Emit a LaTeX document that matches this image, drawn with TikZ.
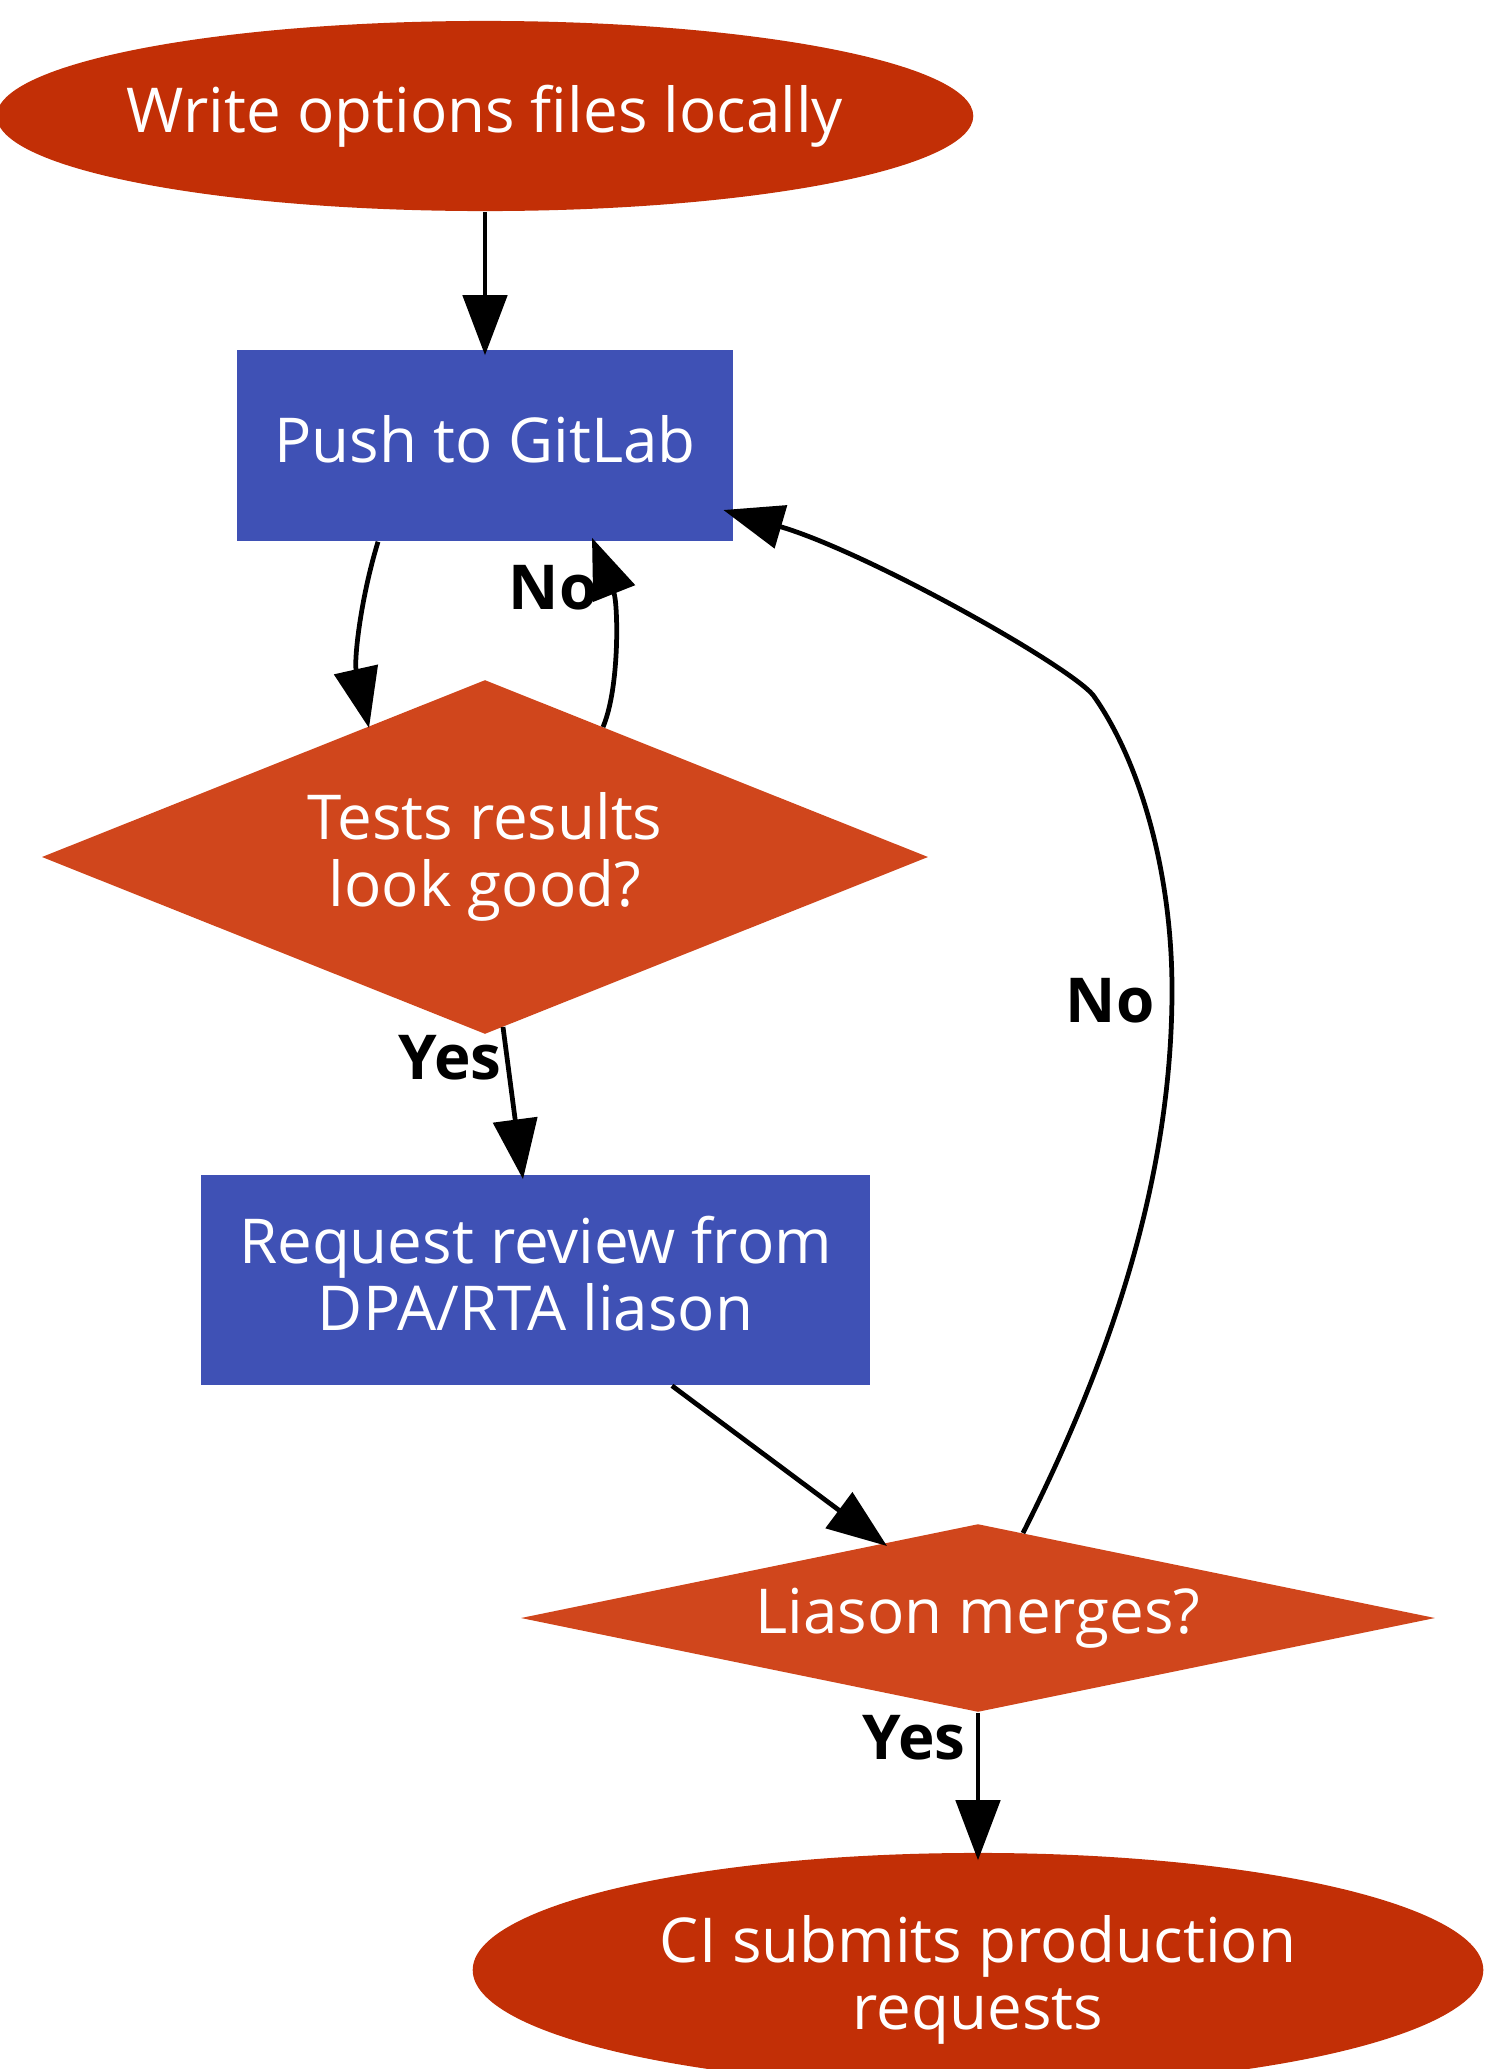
\documentclass[tikz,border=0pt]{standalone}
\usepackage{fontspec}
\setmainfont{Open Sans}
\usetikzlibrary{shapes.geometric,arrows.meta,calc}
\definecolor{termfill}{HTML}{C22F06}
\definecolor{stepfill}{HTML}{3F51B5}
\definecolor{askfill}{HTML}{D0461C}
\begin{document}
\begin{tikzpicture}[x=0.01cm,y=-0.01cm,
  every node/.style={font=\fontsize{17.6pt}{19.1pt}\selectfont, text=white, align=center, inner sep=0pt},
  terminal/.style={ellipse, fill=termfill},
  stepbox/.style={rectangle, fill=stepfill, text depth=0.14cm},
  ask/.style={diamond, fill=askfill},
  flow/.style={draw=black, line width=1.35pt, -{Triangle[length=0.6cm,width=0.44cm]}},
  edgelabel/.style={text=black, font=\fontsize{17.6pt}{19.1pt}\selectfont\bfseries}
]
\useasboundingbox (0,0) rectangle (1485,2069);

% nodes of the flow
\node[terminal, minimum width=9.76cm, minimum height=1.90cm,
      label={center:Write options files locally}] (start) at (485,116) {};
\node[stepbox, minimum width=4.95cm, minimum height=1.91cm] (push) at (485,445.5) {Push to GitLab};
\node[ask, aspect=2.5, minimum width=8.86cm, minimum height=3.54cm] (test) at (485,857) {Tests results\\look good?};
\node[stepbox, minimum width=6.69cm, minimum height=2.10cm] (request) at (535.5,1280) {Request review from\\DPA/RTA liason};
\node[ask, aspect=4.86, minimum width=9.14cm, minimum height=1.88cm] (merge) at (978,1618) {Liason merges?};
\node[terminal, minimum width=10.10cm, minimum height=2.34cm,
      label={[yshift=-0.1cm]center:CI submits production\\requests}] (final) at (978,1970) {};

% connectors
\draw[flow] (start.south) -- ($(push.north)+(0,6)$);
\draw[flow] ($(push.south)+(-107,0)$) .. controls ($(push.south)+(-125,59)$) and ($(push.south)+(-131,119)$) .. ($(test)+(-116,-129)$);
\draw[flow] ($(test)+(118,-130)$) .. controls ($(test)+(135,-170)$) and ($(test)+(133,-254)$) .. ($(push.south)+(107,-4)$);
\draw[flow] ($(test)+(18,170)$) -- ($(request.north)+(-12.5,5)$);
\draw[flow] ($(request.south)+(136.5,0)$) -- ($(merge)+(-91,-72)$);
\draw[flow] ($(merge)+(45,-85)$)
  .. controls ($(merge)+(117,-228)$) and ($(merge)+(194,-418)$) .. ($(merge)+(194,-628)$)
  .. controls ($(merge)+(194,-750)$) and ($(merge)+(160,-860)$) .. ($(merge)+(115,-923)$)
  .. controls ($(merge)+(90,-953)$) and ($(merge)+(-111,-1066)$) .. ($(push.east)+(-10,64.5)$);
\draw[flow] (merge.south) -- ($(final.north)+(0,8)$);

% branch labels
\node[edgelabel] (no1) at (553,588) {No};
\node[edgelabel] (yes1) at (450,1058) {Yes};
\node[edgelabel] (no2) at (1110,1001) {No};
\node[edgelabel] (yes2) at (914,1738) {Yes};
\end{tikzpicture}
\end{document}
